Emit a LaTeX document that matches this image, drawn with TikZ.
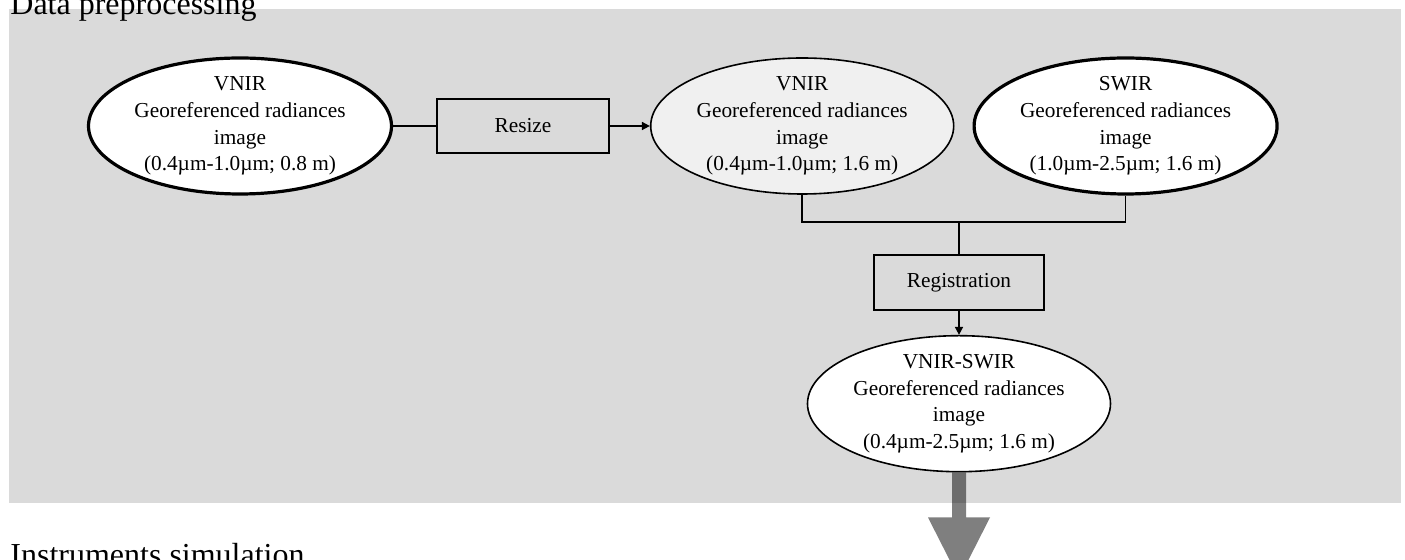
\documentclass[tikz,border=0pt]{standalone}
\usepackage{fontspec}
\setmainfont{Liberation Serif}
\usetikzlibrary{shapes.geometric, arrows.meta, positioning}

\definecolor{bandgray}{HTML}{DADADA}
\definecolor{lightfill}{HTML}{F0F0F0}

\begin{document}
\begin{tikzpicture}[
  x=0.5pt, y=-0.5pt,
  every node/.style = {font=\fontsize{10.65}{13.35}\selectfont},
  image/.style = {
    ellipse,
    align=center,
    minimum width=151.5pt,
    minimum height=68pt,
    inner xsep=0.5pt,
    inner ysep=-1.5pt
  },
  input image/.style = {
    image,
    fill=white,
    draw=black,
    line width=1.6pt
  },
  mid image/.style = {
    image,
    fill=lightfill,
    draw=black,
    line width=0.8pt
  },
  out image/.style = {
    image,
    fill=white,
    draw=black,
    line width=0.8pt
  },
  process/.style = {
    draw=black,
    line width=0.9pt,
    minimum height=27pt
  },
  link/.style = {
    black,
    line width=0.8pt
  },
  arrow/.style = {
    link,
    -{Triangle[length=4pt, width=4pt]}
  },
  big arrow/.style = {
    fill=black,
    fill opacity=0.5
  },
  section title/.style = {
    font=\fontsize{16}{19}\selectfont,
    anchor=base west,
    inner sep=0pt
  }
]

\useasboundingbox (0,0) rectangle (1405,560);

\fill[bandgray] (9,9) rectangle (1401,503);

\node[section title] (preproc) at (10,15) {Data preprocessing};
\node[section title] (simulation) at (10,566) {Instruments simulation};

\node[input image] (vnir) at (240,126) {%
  VNIR\\Georeferenced radiances\\image\\(0.4µm-1.0µm; 0.8 m)};

\node[process, minimum width=86pt, right=21.5pt of vnir] (resize) {Resize};

\node[mid image, right=20pt of resize] (vnirlow) {%
  VNIR\\Georeferenced radiances\\image\\(0.4µm-1.0µm; 1.6 m)};

\node[input image, right=9pt of vnirlow] (swir) {%
  SWIR\\Georeferenced radiances\\image\\(1.0µm-2.5µm; 1.6 m)};

\node[process, minimum width=85pt, minimum height=27.5pt] (registration) at (959,282.5) {Registration};

\node[out image, below=12pt of registration] (fused) {%
  VNIR-SWIR\\Georeferenced radiances\\image\\(0.4µm-2.5µm; 1.6 m)};

\coordinate[above=16pt of registration.north] (join);

\draw[link] (vnir) -- (resize);
\draw[arrow] (resize) -- (vnirlow);
\draw[link] (vnirlow.south) |- (join) -| (swir.south);
\draw[link] (join) -- (registration);
\draw[arrow] (registration) -- (fused);

% big arrow down to the next stage
\fill[big arrow] (fused.south) ++(-7,0) -- ++(0,45) -- ++(-24,0) -- ++(31,61)
  -- ++(31,-61) -- ++(-24,0) -- ++(0,-45) -- cycle;

\end{tikzpicture}
\end{document}
